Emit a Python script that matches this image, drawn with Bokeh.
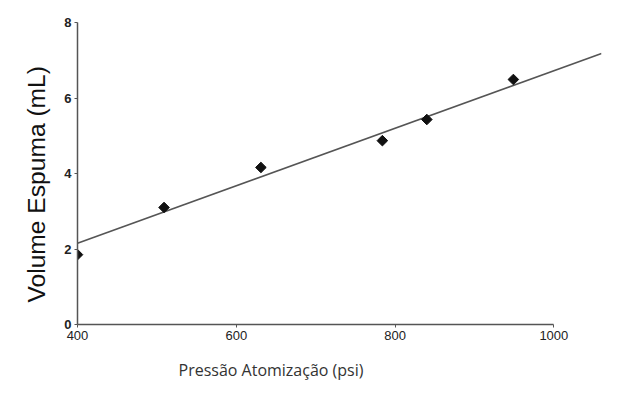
from bokeh.plotting import figure
from bokeh.models import ColumnDataSource, FixedTicker, Range1d, Title
from bokeh.embed import file_html
from bokeh.resources import INLINE

# Data
pressure = [400, 509, 631, 784, 840, 949]
volume = [1.85, 3.10, 4.16, 4.87, 5.43, 6.49]
fit_x = [400, 1060]
fit_y = [2.15, 7.18]
x_ticks = [400, 600, 800, 1000]
y_ticks = [0, 2, 4, 6, 8]
x_title = "Pressão  Atomização (psi)"
y_title = "Volume Espuma (mL)"

p = figure(width=614, height=397, output_backend="svg", toolbar_location=None,
           x_range=Range1d(400, 1060), y_range=Range1d(0, 8),
           min_border_left=77, min_border_right=13, min_border_top=22, min_border_bottom=73)
p.outline_line_color = None
p.xgrid.visible = False
p.ygrid.visible = False

p.line(fit_x, fit_y, line_color="#555555", line_width=1.6)
src = ColumnDataSource(dict(x=pressure, y=volume))
p.scatter("x", "y", source=src, marker="square", angle=0.785398, size=7.5,
          fill_color="#111111", line_color="#111111")

for ax in (p.xaxis[0], p.yaxis[0]):
    ax.axis_line_color = "#555555"
    ax.axis_line_width = 1.5
    ax.major_tick_line_color = "#555555"
    ax.major_tick_out = 3
    ax.major_tick_in = 0
    ax.minor_tick_line_color = None
    ax.major_label_text_font = "Liberation Sans"
    ax.major_label_text_font_size = "13px"
    ax.major_label_text_color = "#222222"
    ax.major_label_standoff = 3

p.xaxis.ticker = FixedTicker(ticks=x_ticks)
p.yaxis.ticker = FixedTicker(ticks=y_ticks)
p.yaxis.major_label_text_font_style = "bold"
p.xaxis.bounds = (400, 1000)
p.yaxis.bounds = (0, 8)

p.add_layout(Title(text=x_title, align="left", offset=101, vertical_align="bottom",
                   text_font="Open Sans", text_font_size="16px", text_font_style="normal",
                   text_color="#333333", standoff=29), "below")
p.add_layout(Title(text=y_title, align="left", offset=22,
                   text_font="Liberation Sans", text_font_size="24.6px", text_font_style="normal",
                   text_color="#111111", standoff=24), "left")

open("out.html", "w").write(file_html(p, INLINE))
